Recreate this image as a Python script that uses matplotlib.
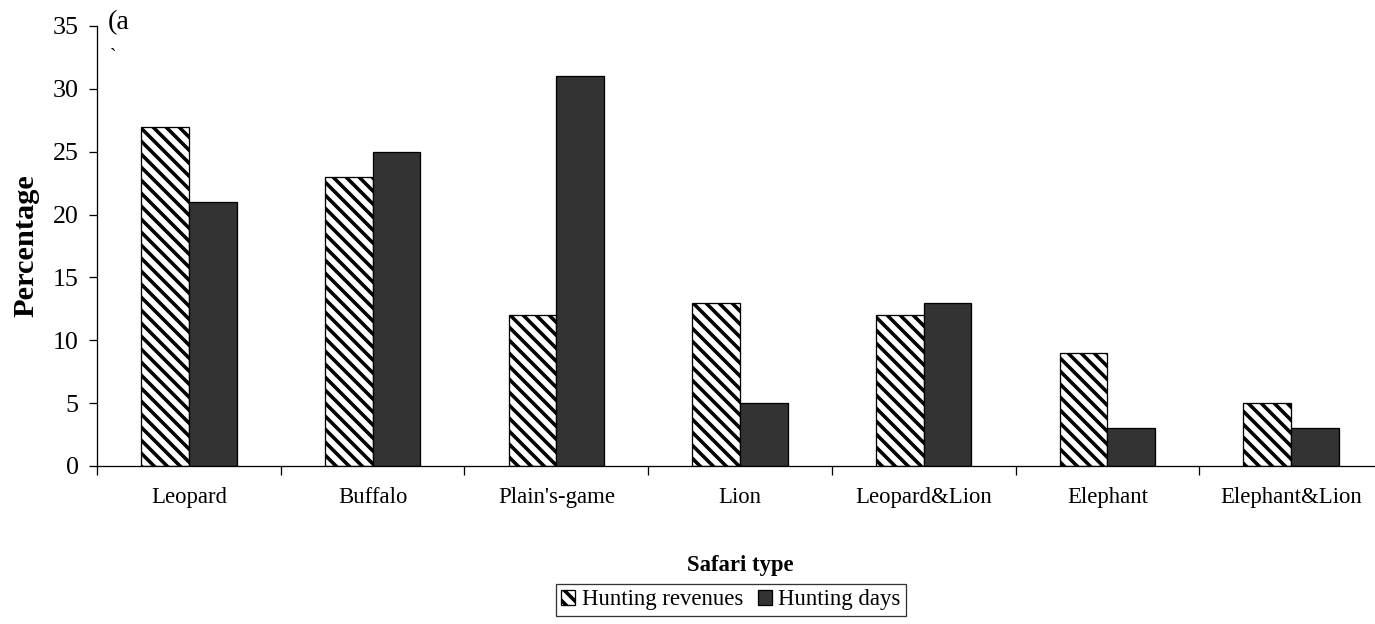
import matplotlib
matplotlib.use("Agg")
import matplotlib.pyplot as plt
import numpy as np

categories = ["Leopard", "Buffalo", "Plain's-game", "Lion", "Leopard&Lion", "Elephant", "Elephant&Lion"]
hunting_revenues = [27, 23, 12, 13, 12, 9, 5]
hunting_days = [21, 25, 31, 5, 13, 3, 3]

plt.rcParams['font.family'] = ['Liberation Serif', 'DejaVu Serif']
plt.rcParams['hatch.linewidth'] = 3.3
plt.rcParams['hatch.color'] = 'black'

dpi = 78
fig = plt.figure(figsize=(1375 / dpi, 624 / dpi), dpi=dpi)
ax = fig.add_axes([97 / 1375, 1 - 466 / 624, (1383 - 97) / 1375, (466 - 26) / 624])

x = np.arange(len(categories))
w = 0.26
ax.bar(x - w / 2, hunting_revenues, w, facecolor='white', edgecolor='black',
       hatch='\\\\', linewidth=1.2, label='Hunting revenues')
ax.bar(x + w / 2, hunting_days, w, facecolor='#333333', edgecolor='black',
       linewidth=1.2, label='Hunting days')

ax.set_xlim(-0.5, len(categories) - 0.5)
ax.set_ylim(0, 35)
ax.set_yticks(range(0, 36, 5))
ax.set_xticks(np.arange(-0.5, len(categories), 1.0))
ax.set_xticklabels([])
ax.set_xticks(x, minor=True)
ax.set_xticklabels(categories, minor=True)
ax.tick_params(axis='x', which='minor', length=0, pad=19, labelsize=21)
ax.tick_params(axis='x', which='major', length=8, width=1.2, direction='out')
ax.tick_params(axis='y', length=7, width=1.2, direction='out', labelsize=24, pad=10)

for s in ['top', 'right']:
    ax.spines[s].set_visible(False)
for s in ['left', 'bottom']:
    ax.spines[s].set_linewidth(1.2)

ax.set_ylabel('Percentage', fontsize=28, fontweight='bold', labelpad=12)
ax.set_xlabel('Safari type', fontsize=21, fontweight='bold', labelpad=44)

ax.text(0.008, 36.3, '(a', transform=ax.get_yaxis_transform(), fontsize=26, va='top')
ax.text(0.010, 33.2, '`', transform=ax.get_yaxis_transform(), fontsize=18, va='top')

leg = ax.legend(loc='center', bbox_to_anchor=(731 / 1375, 1 - 600 / 624),
                bbox_transform=fig.transFigure, ncol=2, frameon=True, fancybox=False,
                fontsize=21, handlelength=0.6, handleheight=0.6, handletextpad=0.3,
                columnspacing=0.65, borderpad=0.25, borderaxespad=0)
leg.get_frame().set_edgecolor('black')
leg.get_frame().set_linewidth(1.2)

fig.savefig('out.png', dpi=dpi)
